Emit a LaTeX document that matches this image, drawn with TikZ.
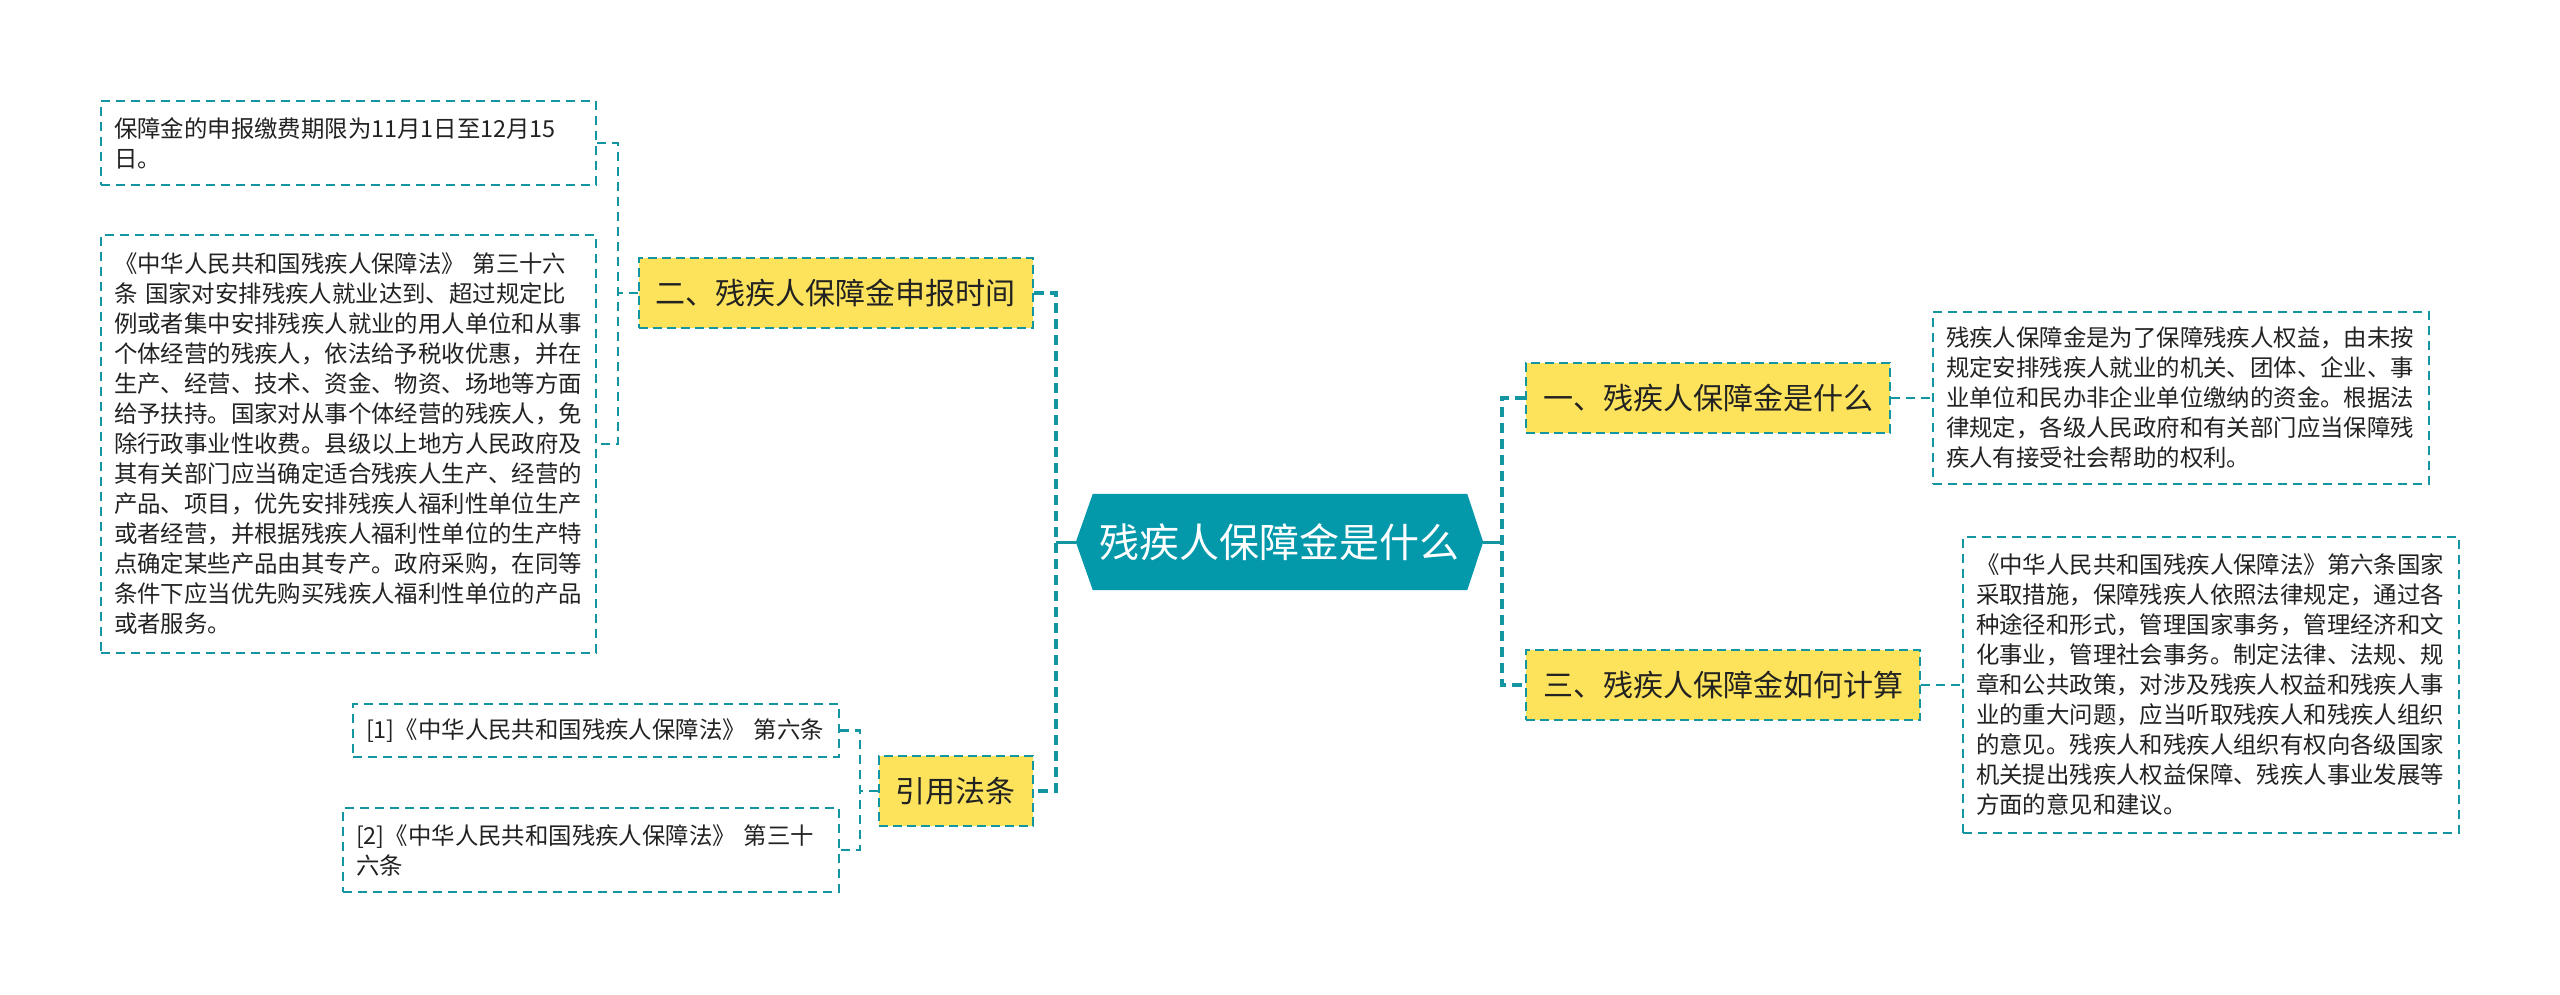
\documentclass[tikz,border=0pt]{standalone}
\usepackage{fontspec}
\setmainfont{Noto Sans CJK SC}
\usetikzlibrary{backgrounds}
\definecolor{teal1}{RGB}{3,152,170}
\definecolor{tealline}{RGB}{20,150,162}
\definecolor{yel}{RGB}{253,227,92}
\definecolor{txt}{RGB}{34,34,34}
\begin{document}
\begin{tikzpicture}[x=1pt,y=-1pt,
  leaf/.style={draw=tealline, line width=1.8pt, dash pattern=on 9pt off 6pt, fill=white, text=txt,
    inner xsep=13pt, inner ysep=0pt, align=left, font=\fontsize{23.4}{30}\selectfont},
  topic/.style={draw=tealline, line width=2.4pt, dash pattern=on 9pt off 5pt, fill=yel, text=txt,
    inner xsep=17pt, inner ysep=0pt, minimum height=70pt, font=\fontsize{30}{36}\selectfont},
  trunk/.style={draw=tealline, line width=3.5pt, dash pattern=on 10pt off 6pt},
  sub/.style={draw=tealline, line width=2.2pt, dash pattern=on 9pt off 6pt},
  solidc/.style={draw=tealline, line width=3pt}
]
\useasboundingbox (0,0) rectangle (2560,994);
\begin{scope}[on background layer]
  \fill[white] (0,0) rectangle (2560,994);
\end{scope}

% root
\node[minimum width=407pt, minimum height=96pt, inner sep=0pt, text=white,
      font=\fontsize{40}{48}\selectfont] (root) at (1279.5,542) {残疾人保障金是什么};
\begin{scope}[on background layer]
  \fill[teal1] (root.west) -- ([xshift=17pt]root.north west) -- ([xshift=-16pt]root.north east)
    -- (root.east) -- ([xshift=-16pt]root.south east) -- ([xshift=17pt]root.south west) -- cycle;
\end{scope}

% topics
\node[topic, anchor=east] (n2) at (1034,293) {二、残疾人保障金申报时间};
\node[topic, anchor=east] (law) at (1034,791) {引用法条};
\node[topic, anchor=west] (n1) at (1525,398) {一、残疾人保障金是什么};
\node[topic, anchor=west] (n3) at (1525,685) {三、残疾人保障金如何计算};

% leaves
\node[leaf, text width=469pt, minimum height=84pt] (tA) at (348.5,143)
  {保障金的申报缴费期限为11月1日至12月15\\日。};
\node[leaf, text width=469pt, minimum height=418pt] (tB) at (348.5,444)
  {《中华人民共和国残疾人保障法》 第三十六\\
   条 国家对安排残疾人就业达到、超过规定比\\
   例或者集中安排残疾人就业的用人单位和从事\\
   个体经营的残疾人，依法给予税收优惠，并在\\
   生产、经营、技术、资金、物资、场地等方面\\
   给予扶持。国家对从事个体经营的残疾人，免\\
   除行政事业性收费。县级以上地方人民政府及\\
   其有关部门应当确定适合残疾人生产、经营的\\
   产品、项目，优先安排残疾人福利性单位生产\\
   或者经营，并根据残疾人福利性单位的生产特\\
   点确定某些产品由其专产。政府采购，在同等\\
   条件下应当优先购买残疾人福利性单位的产品\\
   或者服务。};
\node[leaf, text width=460pt, minimum height=53pt] (c1) at (596,730.5)
  {[1]《中华人民共和国残疾人保障法》~第六条};
\node[leaf, text width=470pt, minimum height=84pt] (c2) at (591,850)
  {[2]《中华人民共和国残疾人保障法》~第三十\\六条};
\node[leaf, text width=470pt, minimum height=172pt] (r1) at (2181,398)
  {残疾人保障金是为了保障残疾人权益，由未按\\
   规定安排残疾人就业的机关、团体、企业、事\\
   业单位和民办非企业单位缴纳的资金。根据法\\
   律规定，各级人民政府和有关部门应当保障残\\
   疾人有接受社会帮助的权利。};
\node[leaf, text width=470pt, minimum height=296pt] (r2) at (2211,685)
  {《中华人民共和国残疾人保障法》第六条国家\\
   采取措施，保障残疾人依照法律规定，通过各\\
   种途径和形式，管理国家事务，管理经济和文\\
   化事业，管理社会事务。制定法律、法规、规\\
   章和公共政策，对涉及残疾人权益和残疾人事\\
   业的重大问题，应当听取残疾人和残疾人组织\\
   的意见。残疾人和残疾人组织有权向各级国家\\
   机关提出残疾人权益保障、残疾人事业发展等\\
   方面的意见和建议。};

% junctions
\coordinate (jl) at (1056,542);
\coordinate (jr) at (1502,542);
\coordinate (j2) at (618,293);
\coordinate (j3) at (860,791);

% connectors
\draw[solidc] (root.west) -- (jl);
\draw[solidc] (root.east) -- (jr);
\draw[trunk] (n2.east) -| (jl) |- (law.east);
\draw[trunk] (n1.west) -| (jr) |- (n3.west);
\draw[sub] (n2.west) -- (j2);
\draw[sub] (tA.east) -| (j2) |- (tB.east);
\draw[sub] (law.west) -- (j3);
\draw[sub] (c1.east) -| (j3) |- (c2.east);
\draw[sub] (n1.east) -- (r1.west);
\draw[sub] (n3.east) -- (r2.west);
\end{tikzpicture}
\end{document}
